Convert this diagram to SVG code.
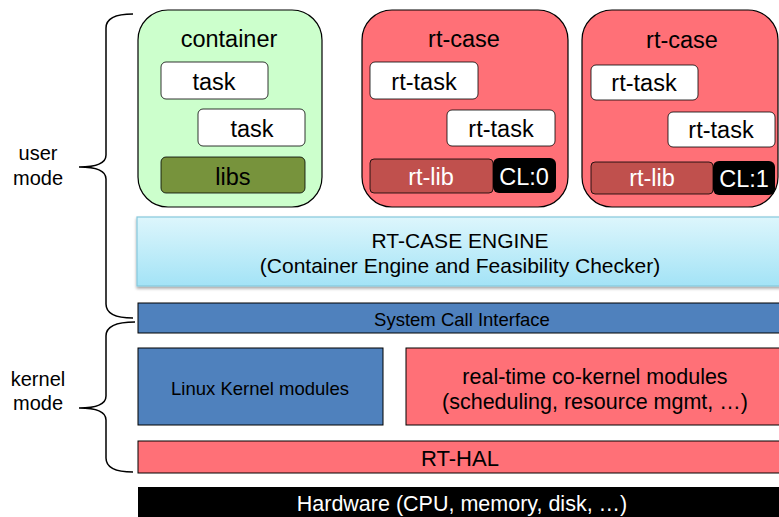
<svg xmlns="http://www.w3.org/2000/svg" width="779" height="517" viewBox="0 0 779 517">
<defs>
<linearGradient id="eng" x1="0" y1="0" x2="0" y2="1">
<stop offset="0" stop-color="#DDF6FC"/>
<stop offset="1" stop-color="#A3E3F6"/>
</linearGradient>
<filter id="sh" x="-5%" y="-20%" width="110%" height="150%">
<feGaussianBlur in="SourceAlpha" stdDeviation="1.5"/>
<feOffset dx="0" dy="2" result="b"/>
<feComponentTransfer><feFuncA type="linear" slope="0.35"/></feComponentTransfer>
<feMerge><feMergeNode/><feMergeNode in="SourceGraphic"/></feMerge>
</filter>
</defs>
<style>
text{font-family:"Liberation Sans",Arial,sans-serif;text-anchor:middle;fill:#000}
.big{font-size:23.5px}
.w{fill:#fff}
.case{stroke:#000;stroke-width:1.2}
.task{fill:#fff;stroke:#000;stroke-width:0.8}
.bar{stroke:#000;stroke-width:1}
.red{fill:#FF7077}
.blue{fill:#4F81BD}
.brace{fill:none;stroke:#000;stroke-width:1.5}
</style>
<rect width="779" height="517" fill="#fff"/>

<g id="braces">
<path class="brace" d="M133,14 Q106,14 106,28 L106,155 Q106,167 79,167 Q106,167 106,179 L106,304 Q106,318 133,318"/>
<path class="brace" d="M135,322 Q106,322 106,336 L106,396 Q106,408 79,408 Q106,408 106,420 L106,458 Q106,472 133,472"/>
</g>
<g id="labels" style="font-size:20px">
<text x="38" y="160">user</text>
<text x="38" y="185">mode</text>
<text x="38" y="386">kernel</text>
<text x="38" y="410">mode</text>
</g>

<g id="container">
<rect class="case" x="138" y="10" width="184" height="197" rx="30" fill="#CCFFCC"/>
<text class="big" x="229" y="47">container</text>
<rect class="task" x="161" y="62" width="107" height="37" rx="5"/>
<text class="big" x="214" y="90">task</text>
<rect class="task" x="198" y="109" width="107" height="37" rx="5"/>
<text class="big" x="252" y="137">task</text>
<rect x="161" y="157" width="144" height="36" rx="5" fill="#77933C" stroke="#000" stroke-width="0.8"/>
<text class="big" x="233" y="185">libs</text>
</g>

<g id="rtcase1">
<rect class="case red" x="362" y="10" width="206" height="197" rx="30"/>
<text class="big" x="464" y="47">rt-case</text>
<rect class="task" x="370" y="62" width="108" height="37" rx="5"/>
<text class="big" x="424" y="90">rt-task</text>
<rect class="task" x="447" y="110" width="108" height="36" rx="5"/>
<text class="big" x="501" y="137">rt-task</text>
<rect x="370" y="159" width="123" height="34" rx="4" fill="#C0504D" stroke="#000" stroke-width="0.8"/>
<text class="big w" x="431" y="185">rt-lib</text>
<rect x="493" y="158" width="63" height="35" rx="6" fill="#000"/>
<text class="big w" x="524" y="185">CL:0</text>
</g>

<g id="rtcase2">
<rect class="case red" x="582" y="10" width="196" height="197" rx="30"/>
<text class="big" x="682" y="48">rt-case</text>
<rect class="task" x="591" y="65" width="107" height="35" rx="5"/>
<text class="big" x="644" y="91">rt-task</text>
<rect class="task" x="668" y="112" width="107" height="35" rx="5"/>
<text class="big" x="721" y="138">rt-task</text>
<rect x="591" y="162" width="122" height="32" rx="4" fill="#C0504D" stroke="#000" stroke-width="0.8"/>
<text class="big w" x="652" y="186">rt-lib</text>
<rect x="713" y="161" width="62" height="34" rx="6" fill="#000"/>
<text class="big w" x="744" y="187">CL:1</text>
</g>

<g id="engine">
<rect x="137" y="217" width="650" height="69" fill="url(#eng)" stroke="#86C8DC" stroke-width="1.2" filter="url(#sh)"/>
<text x="460" y="248" style="font-size:21px">RT-CASE ENGINE</text>
<text x="460" y="273" style="font-size:21px">(Container Engine and Feasibility Checker)</text>
</g>

<g id="syscall">
<rect class="bar blue" x="138" y="303" width="650" height="30"/>
<text x="462" y="326" style="font-size:18.5px">System Call Interface</text>
</g>

<g id="linux">
<rect class="bar blue" x="138" y="348" width="245" height="77"/>
<text x="260" y="395" style="font-size:18.5px">Linux Kernel modules</text>
</g>

<g id="cokernel">
<rect class="bar red" x="406" y="348" width="380" height="77"/>
<text x="595" y="384" style="font-size:21.5px">real-time co-kernel modules</text>
<text x="595" y="409" style="font-size:21.5px">(scheduling, resource mgmt, …)</text>
</g>

<g id="rthal">
<rect class="bar red" x="138" y="441" width="650" height="32"/>
<text x="460" y="466" style="font-size:22px">RT-HAL</text>
</g>

<g id="hardware">
<rect x="138" y="487" width="650" height="35" fill="#000"/>
<text class="w" x="462" y="511" style="font-size:21.5px">Hardware (CPU, memory, disk, …)</text>
</g>

<g id="connectors"></g>
</svg>
